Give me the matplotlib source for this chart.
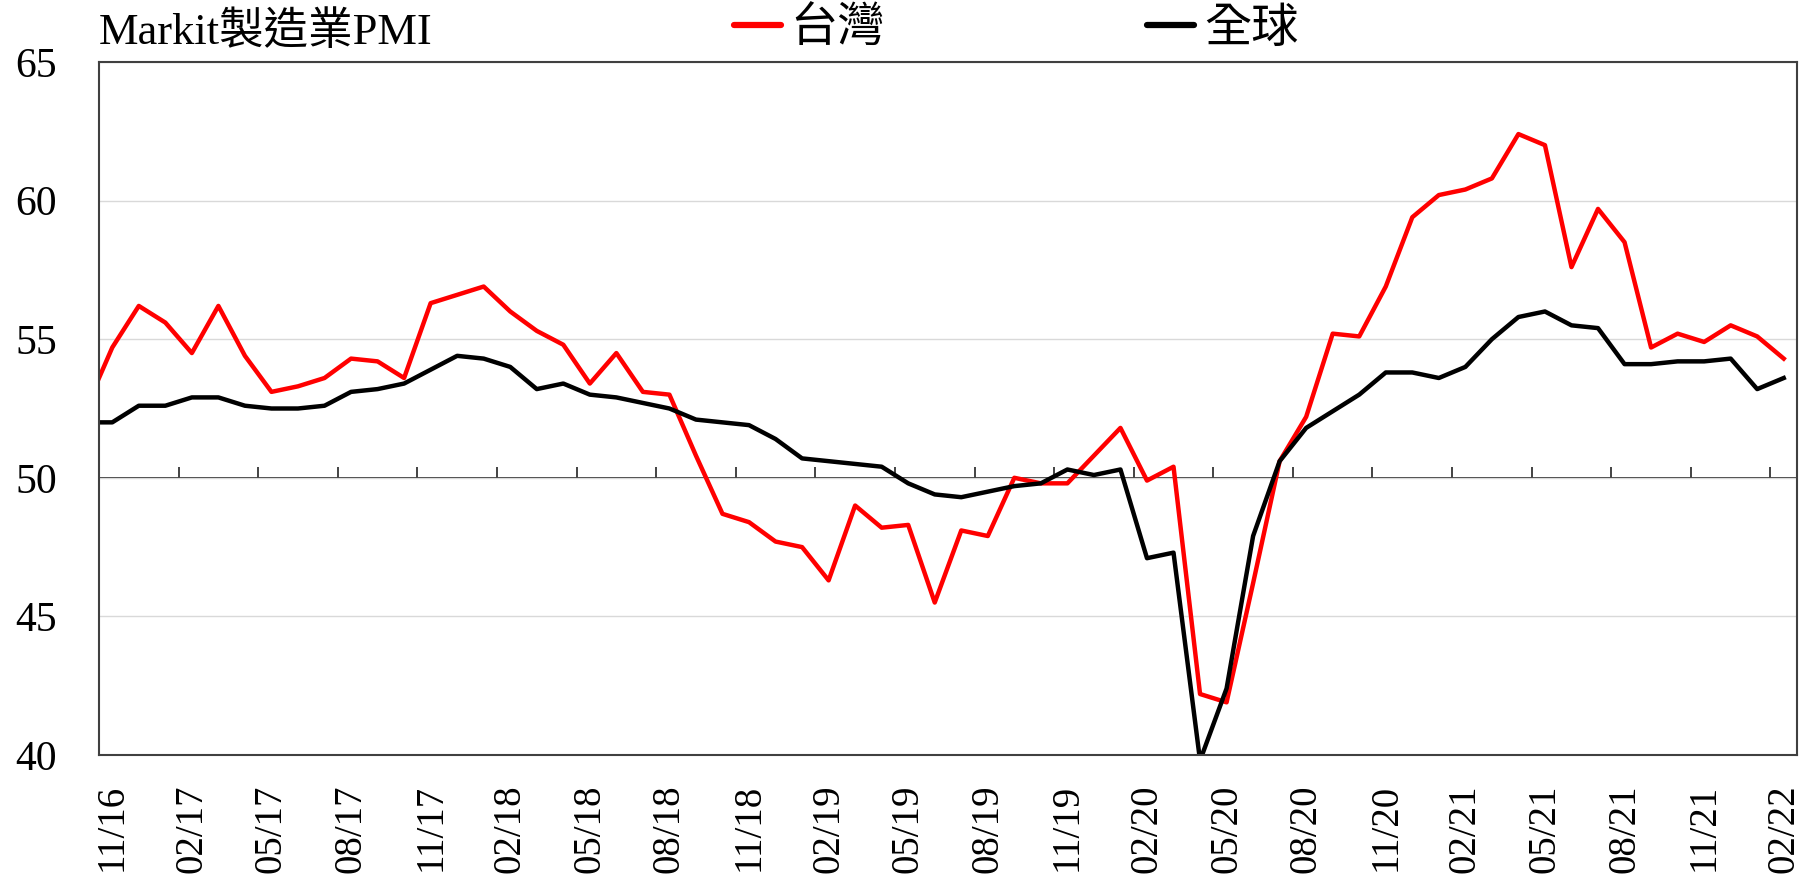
import numpy as np
import matplotlib

matplotlib.use("Agg")
import matplotlib.pyplot as plt

FONT = ["Liberation Serif", "Noto Sans CJK TC"]
plt.rcParams["font.family"] = FONT

# monthly PMI, 10/16 .. 02/22 (10/16 only shows as the clipped stub at the left edge)
taiwan = [
    52.5, 54.7, 56.2, 55.6, 54.5, 56.2, 54.4, 53.1, 53.3, 53.6, 54.3, 54.2, 53.6,
    56.3, 56.6, 56.9, 56.0, 55.3, 54.8, 53.4, 54.5, 53.1, 53.0, 50.8, 48.7, 48.4,
    47.7, 47.5, 46.3, 49.0, 48.2, 48.3, 45.5, 48.1, 47.9, 50.0, 49.8, 49.8, 50.8,
    51.8, 49.9, 50.4, 42.2, 41.9, 46.2, 50.6, 52.2, 55.2, 55.1, 56.9, 59.4, 60.2,
    60.4, 60.8, 62.4, 62.0, 57.6, 59.7, 58.5, 54.7, 55.2, 54.9, 55.5, 55.1, 54.3,
]
world = [
    52.0, 52.0, 52.6, 52.6, 52.9, 52.9, 52.6, 52.5, 52.5, 52.6, 53.1, 53.2, 53.4,
    53.9, 54.4, 54.3, 54.0, 53.2, 53.4, 53.0, 52.9, 52.7, 52.5, 52.1, 52.0, 51.9,
    51.4, 50.7, 50.6, 50.5, 50.4, 49.8, 49.4, 49.3, 49.5, 49.7, 49.8, 50.3, 50.1,
    50.3, 47.1, 47.3, 39.8, 42.4, 47.9, 50.6, 51.8, 52.4, 53.0, 53.8, 53.8, 53.6,
    54.0, 55.0, 55.8, 56.0, 55.5, 55.4, 54.1, 54.1, 54.2, 54.2, 54.3, 53.2, 53.6,
]
tick_labels = [
    "11/16", "02/17", "05/17", "08/17", "11/17", "02/18", "05/18", "08/18",
    "11/18", "02/19", "05/19", "08/19", "11/19", "02/20", "05/20", "08/20",
    "11/20", "02/21", "05/21", "08/21", "11/21", "02/22",
]

# each month sits in the middle of its own slot, axis starts at 11/16
x = np.arange(len(taiwan)) - 0.5
n_slots = len(taiwan) - 1

W, H = 1806, 876
fig = plt.figure(figsize=(W / 100, H / 100), dpi=100)
ax = fig.add_axes([99 / W, 1 - 755 / H, (1797 - 99) / W, (755 - 62) / H])

ax.plot(x, taiwan, color="#ff0000", lw=3.2, label="台灣")
ax.plot(x, world, color="#000000", lw=3.2, label="全球")

ax.set_xlim(0, n_slots)
ax.set_ylim(40, 65)
ax.set_yticks(range(40, 66, 5))
ax.grid(axis="y", color="#d9d9d9", lw=1)
ax.set_axisbelow(True)

ax.set_xticks(x[1::3], tick_labels, rotation=90)
ax.tick_params(axis="x", length=0, pad=21, labelsize=28)
ax.tick_params(axis="y", length=0, pad=30, labelsize=30)
for sp in ax.spines.values():
    sp.set_color("#404040")
    sp.set_linewidth(1.5)

# the category axis crosses at 50, with tick marks between every third month
sec = ax.secondary_xaxis(0.4)
sec.set_alignment("top")
sec.set_xticks(x[1::3] - 0.5, [""] * len(tick_labels))
sec.tick_params(axis="x", direction="out", length=8, width=1.2, colors="#222222")
sec.spines["top"].set_color("#222222")
sec.spines["top"].set_linewidth(1.3)

fig.text(99 / W, 1 - 44 / H, "Markit製造業PMI", fontsize=32, ha="left", va="baseline")

leg = fig.legend(loc="center left", bbox_to_anchor=(734 / W, 1 - 30 / H), ncol=2,
                 frameon=False, fontsize=34, handlelength=1.0, handletextpad=0.2,
                 columnspacing=5.55, borderpad=0, borderaxespad=0)
for line in leg.get_lines():
    line.set_linewidth(4.5)
    line.set_solid_capstyle("round")

fig.savefig("out.png", dpi=100)
